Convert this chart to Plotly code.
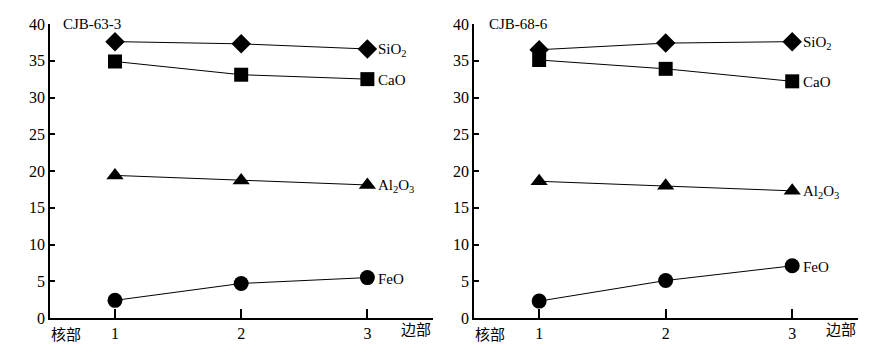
import plotly.graph_objects as go

positions = [1, 2, 3]
tick_labels = ["1", "2", "3"]
samples = ["CJB-63-3", "CJB-68-6"]
oxide_names = ["SiO<sub>2</sub>", "CaO", "Al<sub>2</sub>O<sub>3</sub>", "FeO"]
markers = ["diamond", "square", "triangle-up", "circle"]
marker_sizes = [15, 14, 15, 15]

sio2_a = [37.6, 37.3, 36.6]
cao_a = [34.9, 33.1, 32.5]
al2o3_a = [19.4, 18.7, 18.1]
feo_a = [2.4, 4.7, 5.5]

sio2_b = [36.5, 37.4, 37.6]
cao_b = [35.1, 33.9, 32.2]
al2o3_b = [18.6, 18.0, 17.3]
feo_b = [2.3, 5.1, 7.1]

panels = [[sio2_a, cao_a, al2o3_a, feo_a], [sio2_b, cao_b, al2o3_b, feo_b]]

W, H = 878, 355
serif = "Liberation Serif, Times New Roman, serif"
cjk = "Noto Sans CJK SC"

fig = go.Figure()
ann = []
xdomains = [[50 / W, 433 / W], [474 / W, 858 / W]]
ydom = [(H - 318) / H, (H - 24) / H]

for p, series in enumerate(panels):
    xa = "x" if p == 0 else "x2"
    ya = "y" if p == 0 else "y2"
    for s, vals in enumerate(series):
        fig.add_trace(go.Scatter(
            x=positions, y=vals, mode="lines+markers", xaxis=xa, yaxis=ya,
            line=dict(color="black", width=1),
            marker=dict(symbol=markers[s], size=marker_sizes[s], color="black"),
            cliponaxis=False, showlegend=False))
        ann.append(dict(x=positions[-1], y=vals[-1], xref=xa, yref=ya,
                        text=oxide_names[s], showarrow=False, xanchor="left",
                        xshift=9, yshift=-1,
                        font=dict(family=serif, size=15, color="black")))
    ann.append(dict(x=xdomains[p][0], y=40, xref="paper", yref=ya,
                    text=samples[p], showarrow=False, xanchor="left",
                    xshift=11 if p == 0 else 13, yshift=0,
                    font=dict(family=serif, size=15, color="black")))
    ann.append(dict(x=xdomains[p][0], y=(H - 333) / H, xref="paper", yref="paper",
                    text="核部", showarrow=False, xanchor="left", yanchor="middle",
                    xshift=-1,
                    font=dict(family=cjk, size=15, color="black")))
    ann.append(dict(x=xdomains[p][1], y=(H - 328) / H, xref="paper", yref="paper",
                    text="边部", showarrow=False, xanchor="right", yanchor="middle",
                    font=dict(family=cjk, size=15, color="black")))

axis_common = dict(showgrid=False, zeroline=False, showline=True, linecolor="black",
                   linewidth=1.5, ticks="inside", tickcolor="black", tickwidth=1.5,
                   automargin=False,
                   tickfont=dict(family=serif, size=16, color="black"))

for p in range(2):
    sfx = "" if p == 0 else "2"
    fig.update_layout(**{
        "xaxis" + sfx: dict(domain=xdomains[p], range=[0.485, 3.52], tickvals=positions,
                            ticktext=tick_labels, ticklen=9, anchor="y" + sfx, **axis_common),
        "yaxis" + sfx: dict(domain=ydom, range=[0, 40], tickvals=[0, 5, 10, 15, 20, 25, 30, 35, 40],
                            ticklen=5, anchor="x" + sfx, **axis_common),
    })

fig.update_layout(width=W, height=H, margin=dict(l=0, r=0, t=0, b=0, autoexpand=False),
                  plot_bgcolor="white", paper_bgcolor="white", annotations=ann)

fig.write_html("out.html", config={"displayModeBar": False},
               post_script="document.body.style.margin='0';document.body.style.padding='0';")
